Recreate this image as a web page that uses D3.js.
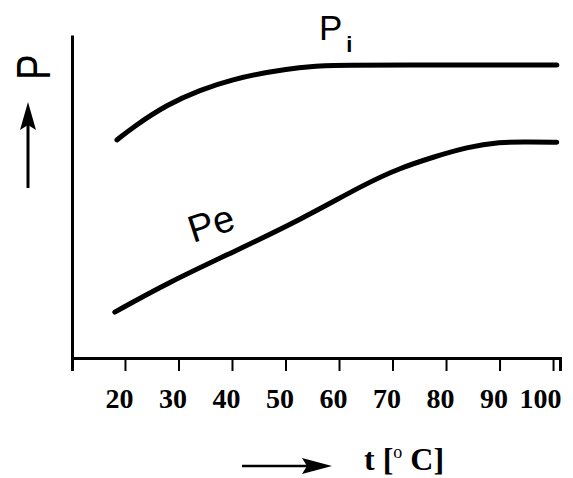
<!DOCTYPE html>
<html lang="en">
<head>
<meta charset="utf-8">
<title>P vs t</title>
<script src="https://d3js.org/d3.v7.min.js"></script>
<style>
  body { margin: 0; background: #fff; }
  svg { display: block; }
</style>
</head>
<body>
<svg width="573" height="478"></svg>
<script>
// temperatures (deg C) and relative power
const tickTemps = [20, 30, 40, 50, 60, 70, 80, 90, 100];
const piTemp  = [18.5, 21.5, 27.9, 34.0, 40.2, 46.5, 52.7, 58.0, 70.0, 100.7];
const piPower = [67.5, 71.5, 78.5, 83.0, 86.3, 88.5, 90.0, 90.7, 90.7, 90.7];
const peTemp  = [18.1, 27.9, 40.2, 52.7, 65.2, 71.4, 77.6, 83.9, 90.1, 95.0, 100.7];
const pePower = [14.2, 23.2, 32.8, 42.7, 54.2, 58.8, 62.2, 65.3, 66.9, 66.9, 66.8];

var svg = d3.select('svg');

var x = d3.scaleLinear().domain([10.1, 101.3]).range([72, 560]);
var y = d3.scaleLinear().domain([0, 100]).range([358, 35]);

// x axis
var xAxis = svg.append('g')
  .attr('transform', 'translate(0,358)')
  .call(d3.axisBottom(x).tickValues(tickTemps).tickSizeOuter(0).tickSize(13));
xAxis.select('.domain').attr('stroke', '#000').attr('stroke-width', 3);
xAxis.selectAll('.tick line').attr('stroke', '#000').attr('stroke-width', 2);
xAxis.selectAll('.tick text')
  .attr('fill', '#000')
  .attr('text-anchor', 'end')
  .attr('dx', 8)
  .attr('y', 50)
  .attr('dy', 0)
  .style('font-family', '"Liberation Serif", serif')
  .style('font-weight', 'bold')
  .style('font-size', '28px');

// y axis (no ticks)
var yAxis = svg.append('g')
  .attr('transform', 'translate(72,0)')
  .call(d3.axisLeft(y).tickValues([]).tickSizeOuter(0));
yAxis.select('.domain').attr('stroke', '#000').attr('stroke-width', 3);

// curves
var line = d3.line().curve(d3.curveBasis)
  .x(function(d) { return x(d[0]); })
  .y(function(d) { return y(d[1]); });

svg.append('path')
  .datum(d3.zip(piTemp, piPower))
  .attr('d', line)
  .attr('fill', 'none').attr('stroke', '#000')
  .attr('stroke-width', 5).attr('stroke-linecap', 'round');

svg.append('path')
  .datum(d3.zip(peTemp, pePower))
  .attr('d', line)
  .attr('fill', 'none').attr('stroke', '#000')
  .attr('stroke-width', 5).attr('stroke-linecap', 'round');

// curve labels
var pi = svg.append('text')
  .attr('x', 319).attr('y', 40)
  .style('font-family', '"Liberation Sans", sans-serif')
  .style('font-size', '35px');
pi.append('tspan').text('P');
pi.append('tspan').attr('dy', 12).attr('dx', 4).style('font-size', '22px').style('font-weight', 'bold').text('i');

svg.append('text')
  .attr('transform', 'translate(193,243) rotate(-18)')
  .style('font-family', '"Liberation Sans", sans-serif')
  .style('font-size', '38px')
  .text('Pe');

// y label and arrow
svg.append('text')
  .attr('transform', 'translate(50,80) rotate(-90) scale(0.8,1)')
  .style('font-family', '"Liberation Sans", sans-serif')
  .style('font-size', '48px')
  .text('P');

svg.append('line')
  .attr('x1', 28).attr('y1', 188).attr('x2', 28).attr('y2', 120)
  .attr('stroke', '#000').attr('stroke-width', 3);
svg.append('path')
  .attr('d', 'M28,102 L36,130 L28,125 L20,130 Z')
  .attr('fill', '#000');

// x label and arrow
svg.append('line')
  .attr('x1', 242).attr('y1', 466).attr('x2', 315).attr('y2', 466)
  .attr('stroke', '#000').attr('stroke-width', 2.5);
svg.append('path')
  .attr('d', 'M332,466 L302,458 L307,466 L302,474 Z')
  .attr('fill', '#000');

var xl = svg.append('text')
  .attr('x', 364).attr('y', 470)
  .style('font-family', '"Liberation Serif", serif')
  .style('font-weight', 'bold')
  .style('font-size', '32px');
xl.append('tspan').text('t [');
xl.append('tspan').attr('dy', -12).style('font-size', '18px').style('font-weight', 'normal').text('o');
xl.append('tspan').attr('dy', 12).text(' C]');
</script>
</body>
</html>
